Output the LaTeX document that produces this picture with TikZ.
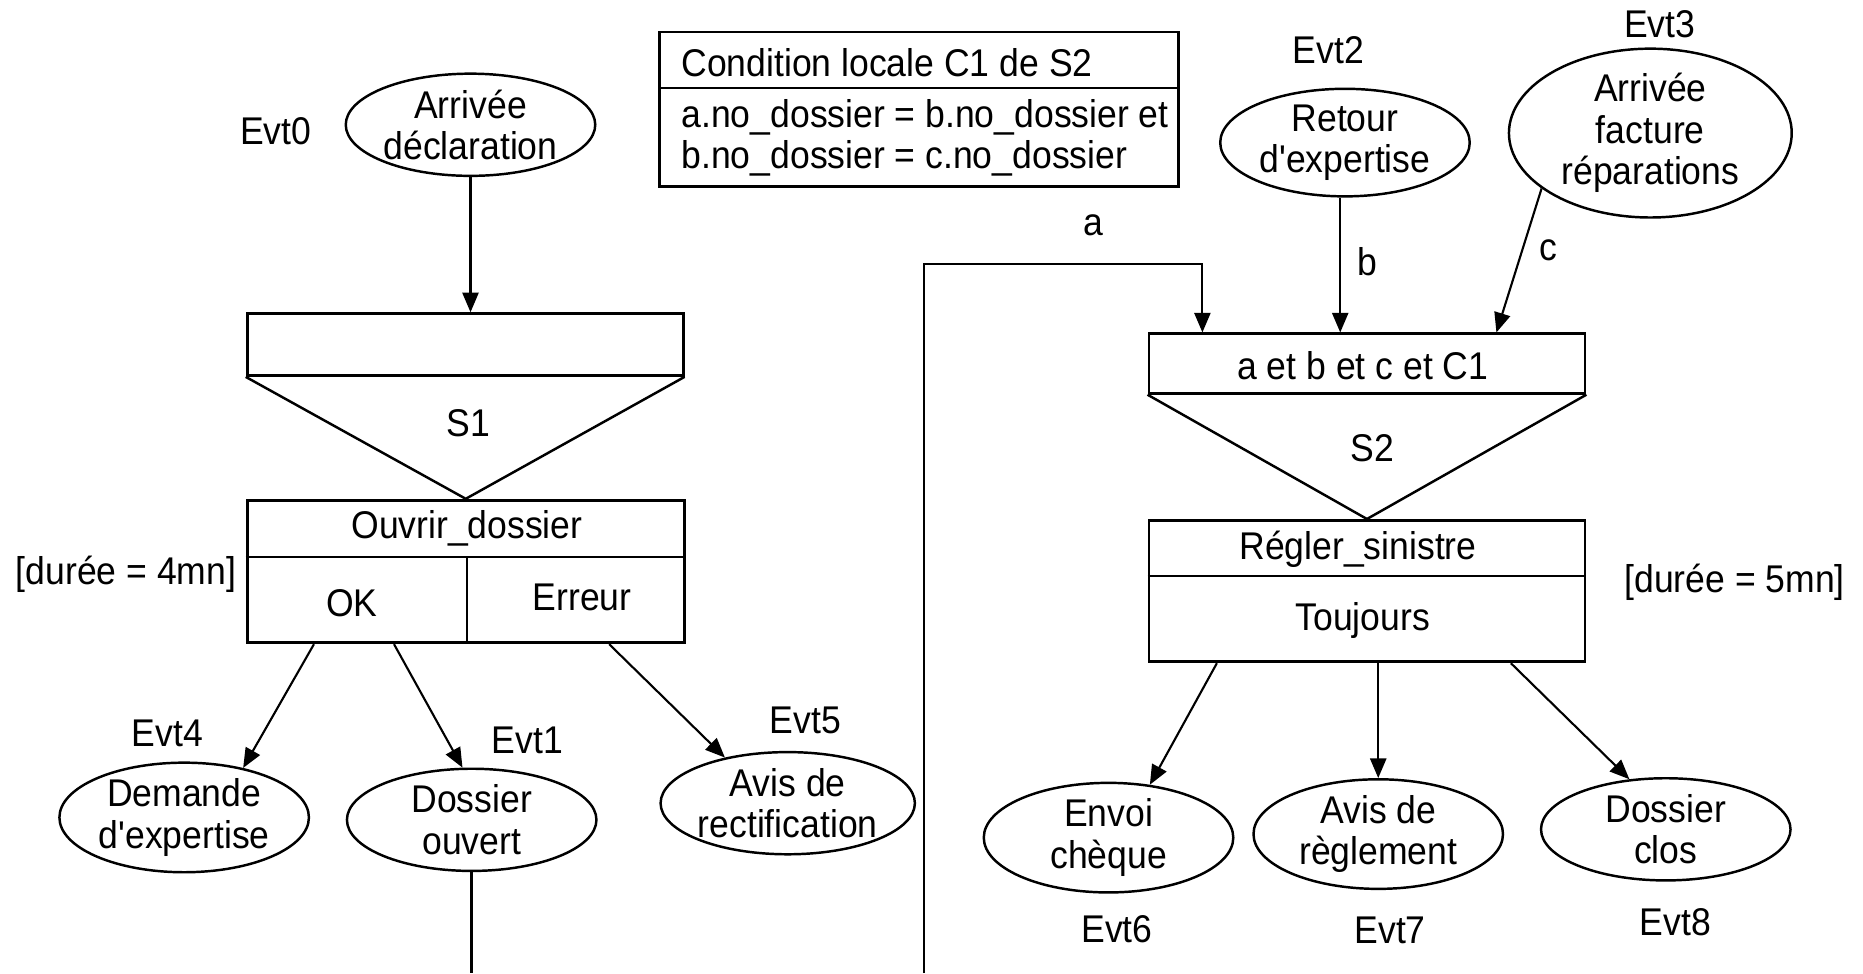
\documentclass[tikz,border=0pt]{standalone}
\usepackage{fontspec}
\setmainfont[FakeStretch=0.92,Ligatures=TeXOff]{Liberation Sans}
\usetikzlibrary{arrows.meta,shapes.geometric,calc}
\newlength{\pxu}\setlength{\pxu}{0.011881cm}
\tikzset{
 box/.style={draw, line width=0.8pt, inner sep=0pt},
 ev/.style={draw, ellipse, line width=0.7pt, inner sep=0pt, align=center, minimum width=210\pxu, minimum height=86\pxu},
 lbl/.style={inner sep=0pt},
 arr/.style={line width=0.6pt, -{Triangle[length=5.6pt,width=4.6pt]}},
 ln/.style={line width=0.7pt},
}
\begin{document}
\begin{tikzpicture}[x=0.011881cm,y=-0.011881cm, font=\fontsize{11pt}{11.8pt}\selectfont]
\useasboundingbox (0,0) rectangle (1568,819);

% condition box
\node[box, minimum width=437\pxu, minimum height=130\pxu] (cond) at (773.5,92) {};
\draw[ln] (cond.west |- 0,74) -- (cond.east |- 0,74);
\node[lbl, anchor=base west] (cond1) at (573,64) {Condition locale C1 de S2};
\node[lbl, anchor=base west] (cond2) at (573,107) {a.no\_dossier = b.no\_dossier et};
\node[lbl, anchor=base west] (cond3) at (573,142) {b.no\_dossier = c.no\_dossier};

% left part
\node[lbl] (evt0) at (232,110) {Evt0};
\node[ev] (decl) at (396,105) {Arrivée\\déclaration};
\node[box, minimum width=367\pxu, minimum height=52\pxu] (s1top) at (391.5,290) {};
\node[box, minimum width=368\pxu, minimum height=120\pxu] (ouvrir) at (392,481) {};
\draw[ln] (s1top.south west) -- (ouvrir.north) -- (s1top.south east);
\node[lbl] (s1) at (394,356) {S1};
\draw[ln] (ouvrir.west |- 0,469) -- (ouvrir.east |- 0,469);
\draw[ln] (393,469) -- (393,541);
\node[lbl] (ouvrirt) at (393,445) {Ouvrir\_dossier};
\node[lbl] (ok) at (296,508) {OK};
\node[lbl] (err) at (490,503) {Erreur};
\node[lbl] (dur4) at (106,483) {[durée = 4mn]};
\draw[arr] (decl.south) -- (decl.south |- s1top.north);

\node[ev] (demande) at (155,688) {Demande\\d'expertise};
\node[ev] (dossier) at (397,690) {Dossier\\ouvert};
\node[ev] (rectif) at (663,676) {Avis de\\rectification};
\node[lbl] (evt4) at (141,617) {Evt4};
\node[lbl] (evt1) at (444,623) {Evt1};
\node[lbl] (evt5) at (678,606) {Evt5};
\draw[arr] ($(ouvrir.south west)!0.155!(ouvrir.south east)$) -- (demande.40);
\draw[arr] ($(ouvrir.south west)!0.337!(ouvrir.south east)$) -- (dossier.100);
\draw[arr] ($(ouvrir.south west)!0.826!(ouvrir.south east)$) -- (rectif.144);

\coordinate (dbot) at (397,819);
\draw[ln] (dossier.south) -- (dbot);

% right part
\node[lbl] (evt2) at (1118,42) {Evt2};
\node[ev, minimum height=84\pxu] (retour) at (1132,120) {Retour\\d'expertise};
\node[lbl] (evt3) at (1397,20) {Evt3};
\node[ev, minimum width=238\pxu, minimum height=108\pxu] (facture) at (1389,112) {Arrivée\\facture\\réparations};

\node[box, minimum width=367\pxu, minimum height=50\pxu] (s2top) at (1150.5,306) {};
\node[lbl] (s2t) at (1147,308) {a et b et c et C1};
\node[box, minimum width=367\pxu, minimum height=119\pxu] (regler) at (1150.5,497.5) {};
\draw[ln] (s2top.south west) -- (regler.north) -- (s2top.south east);
\node[lbl] (s2) at (1155,377) {S2};
\draw[ln] (regler.west |- 0,485) -- (regler.east |- 0,485);
\node[lbl] (reglert) at (1143,462) {Régler\_sinistre};
\node[lbl] (touj) at (1147,522) {Toujours};
\node[lbl] (dur5) at (1460,490) {[durée = 5mn]};

\coordinate (abot) at (778,819);
\coordinate (aturn) at (1012,222);
\draw[arr] (abot) |- (aturn) -- (aturn |- s2top.north);
\node[lbl] (alab) at (920,190) {a};
\draw[arr] (retour.south -| 1128,0) -- (1128,0 |- s2top.north);
\node[lbl] (blab) at (1151,220) {b};
\draw[arr] (facture.207) -- ($(s2top.north west)!0.795!(s2top.north east)$);
\node[lbl] (clab) at (1303,211) {c};

\node[ev] (envoi) at (933,705) {Envoi\\chèque};
\node[ev, minimum height=82\pxu] (avisr) at (1160,702) {Avis de\\règlement};
\node[ev] (clos) at (1402,698) {Dossier\\clos};
\node[lbl] (evt6) at (940,782) {Evt6};
\node[lbl] (evt7) at (1170,783) {Evt7};
\node[lbl] (evt8) at (1410,776) {Evt8};
\draw[arr] ($(regler.south west)!0.158!(regler.south east)$) -- (envoi.52);
\draw[arr] (regler.south -| avisr.north) -- (avisr.north);
\draw[arr] ($(regler.south west)!0.828!(regler.south east)$) -- (clos.126);
\end{tikzpicture}
\end{document}
